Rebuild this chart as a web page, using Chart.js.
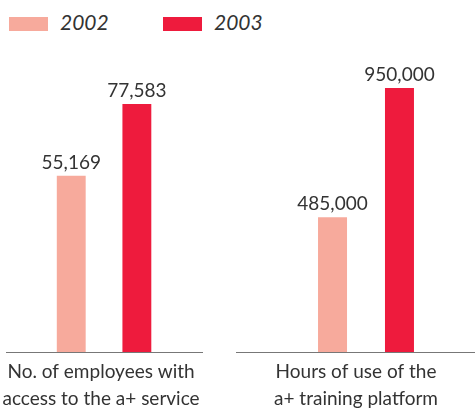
<!DOCTYPE html>
<html>
<head>
<meta charset="utf-8">
<script src="https://cdn.jsdelivr.net/npm/chart.js@4.4.0/dist/chart.umd.min.js"></script>
<style>
  html, body { margin: 0; padding: 0; background: #fff; }
  body { width: 475px; height: 409px; position: relative; overflow: hidden; font-family: Lato, sans-serif; }
  #legend { position: absolute; left: 0; top: 0; width: 475px; height: 40px; }
  .swatch { position: absolute; top: 17px; width: 39px; height: 14px; }
  .year { position: absolute; top: 8px; font-style: italic; font-size: 21px; color: #333; line-height: 28px; }
  .panel { position: absolute; top: 40px; height: 375px; }
</style>
</head>
<body>
<div id="legend"></div>
<div class="panel" style="left:0px;width:215px"><canvas id="left"></canvas></div>
<div class="panel" style="left:226px;width:280px"><canvas id="right"></canvas></div>
<script>
const years = ["2002", "2003"];
const yearColors = ["#f7aa9c", "#ee1b3d"];
const categories = [
  ["No. of employees with", "access to the a+ service"],
  ["Hours of use of the", "a+ training platform"],
];
const values2002 = [55169, 485000];
const values2003 = [77583, 950000];

// legend drawn in html, one entry per year
const legend = document.getElementById("legend");
const legendX = [9, 163];
years.forEach((y, i) => {
  legend.innerHTML += `<div class="swatch" style="left:${legendX[i]}px;background:${yearColors[i]}"></div>
    <div class="year" style="left:${legendX[i] + 51}px">${y}</div>`;
});

const valueLabels = {
  id: "valueLabels",
  afterDatasetsDraw(chart) {
    const ctx = chart.ctx;
    ctx.save();
    ctx.font = "19px Lato";
    ctx.fillStyle = "#333";
    ctx.textAlign = "center";
    ctx.textBaseline = "alphabetic";
    chart.data.datasets.forEach((ds, i) => {
      chart.getDatasetMeta(i).data.forEach((bar, j) => {
        ctx.fillText(ds.data[j].toLocaleString("en-US"), bar.x, bar.y - 7);
      });
    });
    ctx.restore();
  },
};

function makePanel(id, idx, yMax, opts) {
  new Chart(document.getElementById(id), {
    type: "bar",
    data: {
      labels: [categories[idx]],
      datasets: [
        { label: years[0], data: [values2002[idx]], backgroundColor: yearColors[0] },
        { label: years[1], data: [values2003[idx]], backgroundColor: yearColors[1] },
      ],
    },
    options: {
      responsive: true,
      maintainAspectRatio: false,
      animation: false,
      categoryPercentage: opts.cp,
      barPercentage: opts.bp,
      layout: { padding: { top: 20, left: opts.padL, right: opts.padR, bottom: 0 } },
      plugins: { legend: { display: false }, tooltip: { enabled: false } },
      scales: {
        y: { display: false, min: 0, max: yMax },
        x: {
          // grid hidden, tickLength only pushes the labels down a bit
          grid: { display: false, drawTicks: true, tickLength: 3 },
          border: { display: true, color: "#777", width: 1 },
          ticks: {
            color: "#333",
            font: { family: "Lato", size: 19, lineHeight: 1.42 },
            padding: 3,
            maxRotation: 0,
            minRotation: 0,
            autoSkip: false,
            labelOffset: opts.labelOffset,
          },
        },
      },
    },
    plugins: [valueLabels],
  });
}

makePanel("left", 0, 91350, { cp: 0.67, bp: 0.44, padL: 5, padR: 13, labelOffset: -3 });
makePanel("right", 1, 1050760, { cp: 0.515, bp: 0.433, padL: 10, padR: 10, labelOffset: -10 });
</script>
</body>
</html>
